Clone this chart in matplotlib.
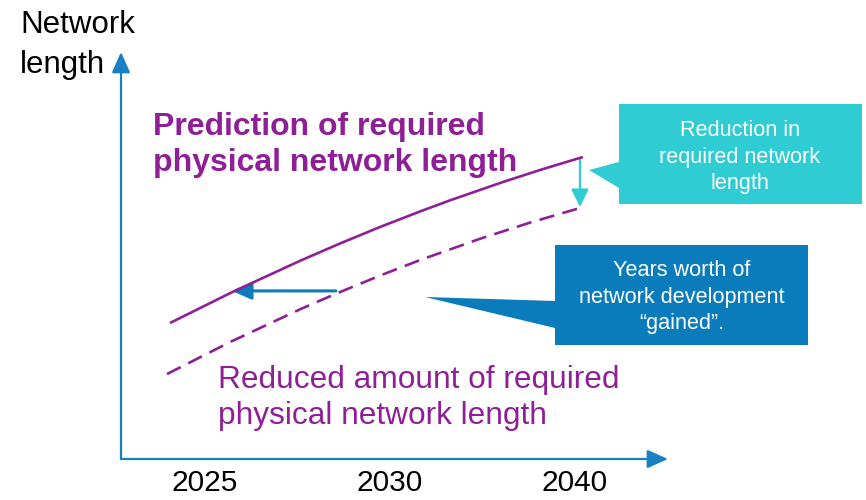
import matplotlib
matplotlib.use("Agg")
import matplotlib.pyplot as plt
from matplotlib.patches import Polygon, FancyArrowPatch

plt.rcParams['font.family'] = ['Liberation Sans', 'DejaVu Sans']

# ---- data (schematic units) ----
tick_pos = [0, 1, 2]
tick_labels = ['2025', '2030', '2040']

pred_x = [-0.189, 0.146, 0.514, 0.730, 0.946, 1.162, 1.324, 1.611, 1.811, 2.043]
pred_y = [3.342, 4.098, 4.870, 5.295, 5.700, 6.081, 6.354, 6.806, 7.101, 7.420]

red_x = [-0.205, 0.135, 0.514, 0.708, 0.946, 1.162, 1.486, 1.757, 2.027]
red_y = [2.088, 2.872, 3.678, 4.061, 4.506, 4.887, 5.410, 5.808, 6.167]

gain_y = 4.13
gain_from_x = 0.708
gain_to_x = 0.146

cut_x = 2.027
cut_from_y = 7.37
cut_to_y = 6.19

PURPLE = '#8e1f96'
BLUE = '#0a7cbc'
AXBLUE = '#1a80c4'
CYAN = '#2fccd3'

W, H = 866, 500
fig = plt.figure(figsize=(W / 100, H / 100), dpi=100)

def fx(px):
    return px / W

def fy(py):
    return 1 - py / H

ax = fig.add_axes([fx(121), fy(459), (668 - 121) / W, (459 - 52) / H])
ax.set_xlim(-0.454, 2.503)
ax.set_ylim(0, 10)
for s in ax.spines.values():
    s.set_visible(False)
ax.set_yticks([])
ax.set_xticks(tick_pos)
ax.set_xticklabels(tick_labels, fontsize=21.5)
ax.tick_params(axis='x', length=0, pad=7.5)
ax.patch.set_alpha(0)

# axes arrows
for end in [(0, 1), (1, 0)]:
    ax.annotate('', xy=end, xytext=(0, 0), xycoords='axes fraction',
                textcoords='axes fraction',
                arrowprops=dict(arrowstyle='-|>,head_length=0.45,head_width=0.2',
                                mutation_scale=28, color=AXBLUE, lw=1.6,
                                shrinkA=0, shrinkB=0), annotation_clip=False)

# lines
ax.plot(pred_x, pred_y, color=PURPLE, lw=1.9, solid_capstyle='butt',
        solid_joinstyle='round')
l, = ax.plot(red_x, red_y, color=PURPLE, lw=1.9, dash_capstyle='butt')
l.set_dashes((5.8, 3.2))

# gained arrow
ax.add_patch(FancyArrowPatch((gain_from_x, gain_y), (gain_to_x, gain_y),
                             arrowstyle='-|>,head_length=0.45,head_width=0.2',
                             mutation_scale=26, color=BLUE, lw=2.2,
                             shrinkA=0, shrinkB=0))
# reduction arrow
ax.add_patch(FancyArrowPatch((cut_x, cut_from_y), (cut_x, cut_to_y),
                             arrowstyle='-|>,head_length=0.45,head_width=0.22',
                             mutation_scale=24, color=CYAN, lw=1.6,
                             shrinkA=0, shrinkB=0))

# callouts (figure pixel layout)
def callout(box, apex, base, color):
    x0, y0, x1, y1 = box
    pts = [(x0, y0), (x1, y0), (x1, y1), (x0, y1), (x0, base[1]), apex, (x0, base[0])]
    poly = Polygon([(fx(a), fy(b)) for a, b in pts], closed=True,
                   transform=fig.transFigure, facecolor=color, edgecolor='none')
    fig.patches.append(poly)

callout((619, 104, 862, 204), (589, 170), (162, 188), CYAN)
callout((555, 245, 808, 345), (425, 297), (301, 328), BLUE)

fig.text(fx(740), fy(157), 'Reduction in\nrequired network\nlength', color='white',
         fontsize=15.6, ha='center', va='center', linespacing=1.32)
fig.text(fx(682), fy(297), 'Years worth of\nnetwork development\n\u201cgained\u201d.',
         color='white', fontsize=15.6, ha='center', va='center', linespacing=1.32)

fig.text(fx(153), fy(145), 'Prediction of required\nphysical network length',
         color=PURPLE, fontsize=23, fontweight='bold', ha='left', va='center',
         linespacing=1.25)
fig.text(fx(218), fy(398), 'Reduced amount of required\nphysical network length',
         color=PURPLE, fontsize=22.8, ha='left', va='center', linespacing=1.22)
fig.text(fx(20), fy(45), 'Network\nlength', color='black', fontsize=22.5,
         ha='left', va='center', linespacing=1.42)

fig.savefig('out.png', dpi=100)
